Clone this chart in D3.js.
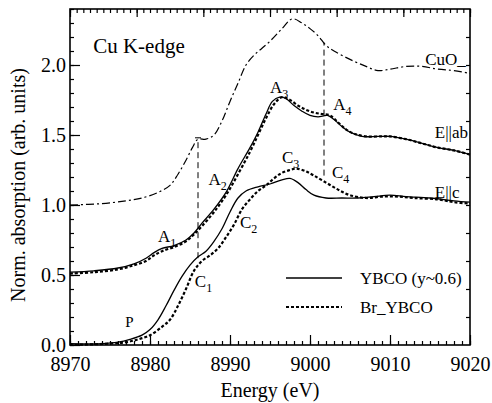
<!DOCTYPE html>
<html>
<head>
<meta charset="utf-8">
<script src="https://cdn.jsdelivr.net/npm/d3@7"></script>
<style>
  body { margin: 0; background: #fff; }
</style>
</head>
<body>
<div id="chart"></div>
<script>
var width = 492;
var height = 403;
var FONT = "Liberation Serif";

// CuO reference (dash-dot)
var cuoE = [8970, 8974, 8977, 8979, 8981, 8982.5, 8983.5, 8984.5, 8985.3, 8986, 8987, 8988, 8989, 8990, 8991, 8992, 8993, 8994, 8995, 8996.5, 8997.8, 8999, 9000, 9001, 9002, 9003, 9005, 9007, 9008.5, 9010, 9012, 9014, 9016, 9018, 9020];
var cuoV = [1.00, 1.01, 1.03, 1.05, 1.09, 1.14, 1.22, 1.32, 1.41, 1.47, 1.47, 1.50, 1.60, 1.74, 1.87, 2.00, 2.07, 2.12, 2.17, 2.26, 2.33, 2.30, 2.26, 2.21, 2.14, 2.10, 2.04, 1.99, 1.96, 1.97, 1.99, 1.99, 1.97, 1.96, 1.94];

// E||ab, YBCO (solid)
var ybcoAbE = [8970, 8973, 8976, 8978, 8979.5, 8980.5, 8981.5, 8983, 8984.5, 8985.5, 8986.5, 8988, 8989.5, 8991, 8992.5, 8993.5, 8994.5, 8995.3, 8996.2, 8997, 8998, 8999, 9000, 9001, 9002.2, 9003, 9004, 9005, 9006.5, 9008.5, 9010, 9012, 9014, 9016, 9018, 9020];
var ybcoAbV = [0.52, 0.53, 0.55, 0.58, 0.62, 0.66, 0.69, 0.71, 0.75, 0.80, 0.87, 0.97, 1.09, 1.26, 1.41, 1.52, 1.65, 1.74, 1.77, 1.76, 1.71, 1.67, 1.64, 1.63, 1.64, 1.61, 1.56, 1.52, 1.49, 1.49, 1.49, 1.47, 1.44, 1.41, 1.39, 1.36];

// E||ab, Br_YBCO (dotted)
var brAbE = [8970, 8973, 8976, 8978, 8979.5, 8980.5, 8981.5, 8983, 8984.5, 8985.5, 8986.5, 8988, 8989.5, 8991, 8992.5, 8993.5, 8994.5, 8995.5, 8996.5, 8997.5, 8998.5, 8999.5, 9000.5, 9001.5, 9002.5, 9003.5, 9004.5, 9005.5, 9007, 9009, 9010, 9012, 9014, 9016, 9018, 9020];
var brAbV = [0.51, 0.52, 0.54, 0.57, 0.60, 0.64, 0.67, 0.70, 0.74, 0.79, 0.85, 0.95, 1.07, 1.22, 1.38, 1.50, 1.62, 1.72, 1.77, 1.75, 1.71, 1.68, 1.66, 1.65, 1.64, 1.59, 1.54, 1.51, 1.49, 1.49, 1.49, 1.47, 1.44, 1.41, 1.39, 1.36];

// E||c, YBCO (solid)
var ybcoCE = [8970, 8974, 8976, 8977.5, 8979, 8980, 8981, 8982, 8983, 8984, 8985, 8986, 8987, 8988, 8989, 8990, 8991, 8992, 8993.5, 8995, 8996.5, 8997.5, 8998.5, 8999.5, 9000.5, 9002, 9004, 9006, 9008, 9010, 9012, 9015, 9018, 9020];
var ybcoCV = [0.01, 0.01, 0.02, 0.04, 0.07, 0.11, 0.18, 0.28, 0.39, 0.49, 0.57, 0.63, 0.67, 0.74, 0.83, 0.95, 1.05, 1.10, 1.13, 1.15, 1.18, 1.19, 1.16, 1.11, 1.07, 1.05, 1.05, 1.05, 1.06, 1.07, 1.06, 1.05, 1.03, 1.02];

// E||c, Br_YBCO (dotted)
var brCE = [8970, 8975, 8977, 8978.5, 8980, 8981.5, 8982.5, 8983.5, 8984.5, 8985.5, 8986.5, 8987.5, 8988.5, 8989.5, 8990.5, 8991.5, 8992.5, 8993.5, 8994.5, 8995.5, 8996.5, 8997.5, 8998.3, 8999.5, 9000.5, 9002, 9003.5, 9005, 9007, 9009, 9011, 9013, 9016, 9018, 9020];
var brCV = [0.00, 0.01, 0.02, 0.04, 0.07, 0.13, 0.18, 0.28, 0.40, 0.53, 0.60, 0.64, 0.69, 0.77, 0.86, 0.97, 1.04, 1.10, 1.14, 1.19, 1.23, 1.25, 1.26, 1.24, 1.21, 1.16, 1.11, 1.07, 1.05, 1.06, 1.06, 1.05, 1.04, 1.02, 1.01];

// vertical guide lines (energy, from, to)
var guideE = [8986, 9001.75];
var guideFrom = [0.62, 1.21];
var guideTo = [1.48, 2.16];

// feature labels: letter, subscript, energy, value
var featLetter = ["A", "A", "A", "A", "C", "C", "C", "C", "P"];
var featSub = ["1", "2", "3", "4", "1", "2", "3", "4", ""];
var featE = [8981.0, 8987.3, 8995.0, 9002.9, 8985.6, 8991.25, 8996.5, 9002.75, 8976.9];
var featV = [0.736, 1.143, 1.80, 1.679, 0.414, 0.836, 1.30, 1.193, 0.129];

var curveNames = ["CuO_", "E||ab", "E||c"];
var curveNameE = [9014.4, 9015.6, 9015.6];
var curveNameV = [2.0, 1.479, 1.05];

var legendNames = ["YBCO (y~0.6)", "Br_YBCO"];

var margin = {left: 70, top: 9, right: 22, bottom: 58};
var x0 = margin.left, x1 = width - margin.right;
var y0 = height - margin.bottom, y1 = margin.top;

var xScale = d3.scaleLinear().domain([8970, 9020]).range([x0, x1]);
var yScale = d3.scaleLinear().domain([0, 2.4]).range([y0, y1]);
var topScale = d3.scaleLinear().domain([0, 6]).range([x0, x1]);

var svg = d3.select("#chart").append("svg")
    .attr("width", width)
    .attr("height", height)
    .attr("font-family", FONT);

function zip(es, vs) {
    return es.map(function (e, i) { return [e, vs[i]]; });
}

var line = d3.line()
    .x(function (d) { return xScale(d[0]); })
    .y(function (d) { return yScale(d[1]); })
    .curve(d3.curveCatmullRom.alpha(0.5));

var plot = svg.append("g");

// guide lines
guideE.forEach(function (e, i) {
    plot.append("line")
        .attr("x1", xScale(e)).attr("x2", xScale(e))
        .attr("y1", yScale(guideFrom[i])).attr("y2", yScale(guideTo[i]))
        .attr("stroke", "#000").attr("stroke-width", 1)
        .attr("stroke-dasharray", "6,4");
});
// small cross mark at top of first guide
plot.append("line")
    .attr("x1", xScale(guideE[0]) - 3).attr("x2", xScale(guideE[0]) + 3)
    .attr("y1", yScale(guideTo[0])).attr("y2", yScale(guideTo[0]))
    .attr("stroke", "#000").attr("stroke-width", 1);

var series = [
    {d: zip(cuoE, cuoV), dash: "8,3,2,3", w: 1.2},
    {d: zip(ybcoAbE, ybcoAbV), dash: null, w: 1.3},
    {d: zip(brAbE, brAbV), dash: "3,2", w: 2.2},
    {d: zip(ybcoCE, ybcoCV), dash: null, w: 1.3},
    {d: zip(brCE, brCV), dash: "3,2", w: 2.2}
];

series.forEach(function (s) {
    plot.append("path")
        .datum(s.d)
        .attr("d", line)
        .attr("fill", "none")
        .attr("stroke", "#000")
        .attr("stroke-width", s.w)
        .attr("stroke-dasharray", s.dash);
});

// axes
var bottomMajor = d3.axisBottom(xScale).tickValues(d3.range(8970, 9021, 10))
    .tickSize(-10).tickPadding(12).tickFormat(d3.format("d"));
var bottomMinor = d3.axisBottom(xScale).tickValues(d3.range(8970, 9021, 1))
    .tickSize(-4).tickFormat("");
var leftMajor = d3.axisLeft(yScale).tickValues([0, 0.5, 1.0, 1.5, 2.0])
    .tickSize(-10).tickPadding(4).tickFormat(d3.format(".1f"));
var leftMinor = d3.axisLeft(yScale).tickValues(d3.range(0, 2.41, 0.1))
    .tickSize(-4).tickFormat("");
var topMajor = d3.axisTop(topScale).tickValues(d3.range(0, 6.01, 1))
    .tickSize(-8).tickFormat("");
var topMinor = d3.axisTop(topScale).tickValues(d3.range(0, 6.01, 0.1))
    .tickSize(-4).tickFormat("");
var rightTicks = d3.axisRight(yScale).tickValues(d3.range(0.2, 2.3, 0.2))
    .tickSize(-4).tickFormat("");

function styleAxis(g) {
    g.attr("font-family", FONT).attr("font-size", 20);
    g.select(".domain").remove();
    g.selectAll(".tick line").attr("stroke", "#000").attr("stroke-width", 1.2);
    g.selectAll("text").attr("fill", "#000")
        .attr("font-family", FONT).attr("font-size", 20);
}

svg.append("g").attr("transform", "translate(0," + y0 + ")").call(bottomMinor).call(styleAxis);
svg.append("g").attr("transform", "translate(0," + y0 + ")").call(bottomMajor).call(styleAxis);
svg.append("g").attr("transform", "translate(" + x0 + ",0)").call(leftMinor).call(styleAxis);
svg.append("g").attr("transform", "translate(" + x0 + ",0)").call(leftMajor).call(styleAxis);
svg.append("g").attr("transform", "translate(0," + y1 + ")").call(topMinor).call(styleAxis);
svg.append("g").attr("transform", "translate(0," + y1 + ")").call(topMajor).call(styleAxis);
svg.append("g").attr("transform", "translate(" + x1 + ",0)").call(rightTicks).call(styleAxis);

svg.append("rect")
    .attr("x", x0).attr("y", y1)
    .attr("width", x1 - x0).attr("height", y0 - y1)
    .attr("fill", "none").attr("stroke", "#000").attr("stroke-width", 1.6);

function label(x, y, size, t) {
    return svg.append("text")
        .attr("x", x).attr("y", y)
        .attr("font-family", FONT)
        .attr("font-size", size)
        .attr("fill", "#000")
        .text(t);
}

// axis titles
label((x0 + x1) / 2, 397, 20, "Energy (eV)").attr("text-anchor", "middle");

svg.append("text")
    .attr("transform", "translate(25," + 185 + ") rotate(-90)")
    .attr("text-anchor", "middle")
    .attr("font-family", FONT)
    .attr("font-size", 20)
    .text("Norm. absorption (arb. units)");

// edge label
label(xScale(8972.9), yScale(2.086), 21, "Cu K-edge");

// feature labels
featLetter.forEach(function (t, i) {
    var txt = label(xScale(featE[i]), yScale(featV[i]), t === "P" ? 15 : 17, t);
    if (featSub[i]) {
        txt.append("tspan")
            .attr("dy", 5)
            .attr("font-size", 12)
            .text(featSub[i]);
    }
});

// curve names
curveNames.forEach(function (t, i) {
    label(xScale(curveNameE[i]), yScale(curveNameV[i]), 17, t);
});

// legend
var legendDash = [null, "3,2"];
var legendW = [1.3, 2.2];
legendNames.forEach(function (t, i) {
    var ly = 278 + i * 29;
    svg.append("line")
        .attr("x1", 286).attr("x2", 342)
        .attr("y1", ly).attr("y2", ly)
        .attr("stroke", "#000")
        .attr("stroke-width", legendW[i])
        .attr("stroke-dasharray", legendDash[i]);
    label(360, ly + 6, 17, t);
});
</script>
</body>
</html>
